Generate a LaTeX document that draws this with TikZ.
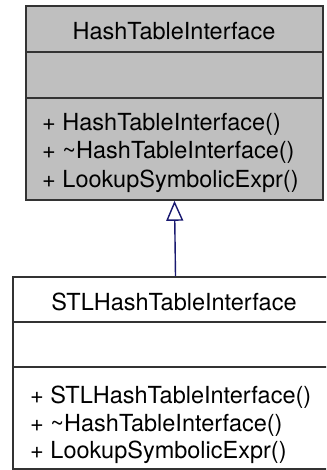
\documentclass[tikz,border=0pt]{standalone}
\usepackage{fontspec}
\setmainfont{TeX Gyre Heros}
\usetikzlibrary{arrows.meta}

\definecolor{boxgray}{HTML}{BFBFBF}
\definecolor{edgeblue}{HTML}{191970}

\tikzset{
  classbox/.style={draw=black!80, line width=1.6pt, inner sep=0pt},
  member/.style={anchor=base west, inner sep=0pt},
  classname/.style={anchor=base, inner sep=0pt},
  inherit/.style={-{Triangle[open, length=20pt, width=17pt, line width=1.4pt]}, edgeblue, line width=1.4pt}
}

\begin{document}
\begin{tikzpicture}[x=1pt, y=-1pt, font=\fontsize{23.5}{28}\selectfont]
        \clip (0,0) rectangle (326,470);
        \fill[white] (0,0) rectangle (326,470);

        % base class
        \node[classbox, fill=boxgray, minimum width=297pt, minimum height=194pt] (base) at (174.5,103) {};
        \draw[black!80, line width=1.6pt] (base.west |- 0,52) -- (base.east |- 0,52);
        \draw[black!80, line width=1.6pt] (base.west |- 0,98) -- (base.east |- 0,98);
        \node[classname] (basename) at (174,40) {HashTableInterface};
        \node[member] (basector) at (42,131) {+ HashTableInterface()};
        \node[member] (basedtor) at (42,159) {+ \textasciitilde HashTableInterface()};
        \node[member] (baselookup) at (42,187) {+ LookupSymbolicExpr()};

        % derived class
        \node[classbox, fill=white, minimum width=325pt, minimum height=192pt] (derived) at (175.5,373) {};
        \draw[black!80, line width=1.6pt] (derived.west |- 0,322) -- (derived.east |- 0,322);
        \draw[black!80, line width=1.6pt] (derived.west |- 0,367) -- (derived.east |- 0,367);
        \node[classname] (derivedname) at (174,310) {STLHashTableInterface};
        \node[member] (derivedctor) at (30,403) {+ STLHashTableInterface()};
        \node[member] (deriveddtor) at (30,431) {+ \textasciitilde HashTableInterface()};
        \node[member] (derivedlookup) at (30,458) {+ LookupSymbolicExpr()};

        % inheritance
        \draw[inherit] (derived.north) -- (base.south);
    \end{tikzpicture}
\end{document}
